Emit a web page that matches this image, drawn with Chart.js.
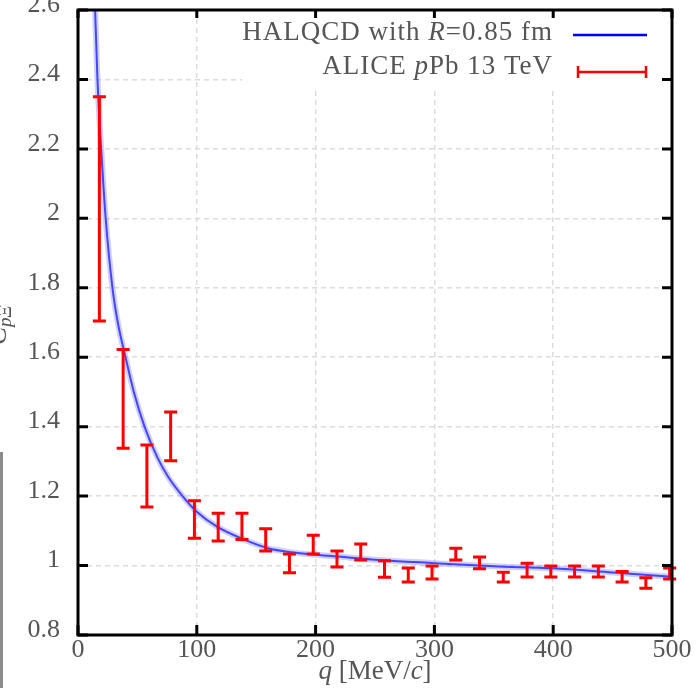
<!DOCTYPE html>
<html>
<head>
<meta charset="utf-8">
<script src="https://cdn.jsdelivr.net/npm/chart.js@4.4.1/dist/chart.umd.min.js"></script>
<style>
  html, body { margin: 0; padding: 0; background: #fff; }
  #wrap { position: relative; width: 699px; height: 688px; }
  #edge { position: absolute; left: 0; top: 452px; width: 3px; height: 236px; background: #8c8c8c; }
</style>
</head>
<body>
<div id="wrap">
  <canvas id="cf" width="699" height="688"></canvas>
  <div id="edge"></div>
</div>
<script>
// HALQCD curve
var curveQ = [14.4, 16.4, 19.5, 23.3, 29, 33.5, 40, 47, 56, 67, 76, 88, 100, 117, 139, 160, 180, 200, 226, 250, 300, 350, 400, 450, 500];
var curveC = [2.6, 2.4, 2.2, 2.0, 1.8, 1.7, 1.6, 1.5, 1.4, 1.31, 1.255, 1.2, 1.155, 1.112, 1.076, 1.05, 1.038, 1.031, 1.024, 1.017, 1.007, 0.998, 0.992, 0.98, 0.968];

// ALICE data points
var dataQ = [18, 38, 58, 78, 98, 118, 138, 158, 178, 198, 218, 238, 258, 278, 298, 318, 338, 358, 378, 398, 418, 438, 458, 478, 498];
var dataC = [2.027, 1.48, 1.258, 1.372, 1.133, 1.111, 1.113, 1.074, 1.006, 1.06, 1.019, 1.039, 0.99, 0.973, 0.98, 1.033, 1.008, 0.967, 0.987, 0.983, 0.983, 0.983, 0.968, 0.95, 0.977];
var dataErr = [0.323, 0.142, 0.089, 0.07, 0.054, 0.04, 0.038, 0.032, 0.027, 0.027, 0.023, 0.023, 0.024, 0.02, 0.019, 0.017, 0.017, 0.014, 0.02, 0.016, 0.016, 0.016, 0.015, 0.015, 0.016];

var xTicks = [0, 100, 200, 300, 400, 500];
var yTicks = [0.8, 1, 1.2, 1.4, 1.6, 1.8, 2, 2.2, 2.4, 2.6];

var serif = '"Liberation Serif", "DejaVu Serif", serif';
var textCol = '#555';

function pts(xs, ys) {
	var out = [];
	for (var i in xs) out.push({x: xs[i], y: ys[i]});
	return out;
}

// draw a run of text pieces, some italic, starting at x
function drawPieces(ctx, pieces, x, y, size) {
	for (var i in pieces) {
		var p = pieces[i];
		ctx.font = (p.it ? 'italic ' : '') + size + 'px ' + serif;
		ctx.fillText(p.t, x, y);
		x += ctx.measureText(p.t).width;
	}
}
function piecesWidth(ctx, pieces, size) {
	var w = 0;
	for (var i in pieces) {
		ctx.font = (pieces[i].it ? 'italic ' : '') + size + 'px ' + serif;
		w += ctx.measureText(pieces[i].t).width;
	}
	return w;
}

var extras = {
	id: 'extras',
	beforeDatasetsDraw: function(chart) {
		var ctx = chart.ctx, a = chart.chartArea;
		ctx.save();
		ctx.fillStyle = '#fff';
		ctx.fillRect(242, a.top + 2, a.right - 244, 76);
		ctx.restore();
	},
	afterDatasetsDraw: function(chart) {
		var ctx = chart.ctx, xs = chart.scales.x, ys = chart.scales.y;
		ctx.save();
		ctx.strokeStyle = '#ff0000';
		ctx.lineWidth = 3;
		for (var i in dataQ) {
			var px = xs.getPixelForValue(dataQ[i]);
			var t = ys.getPixelForValue(dataC[i] + dataErr[i]);
			var b = ys.getPixelForValue(dataC[i] - dataErr[i]);
			ctx.beginPath();
			ctx.moveTo(px, t); ctx.lineTo(px, b);
			ctx.moveTo(px - 6.5, t); ctx.lineTo(px + 6.5, t);
			ctx.moveTo(px - 6.5, b); ctx.lineTo(px + 6.5, b);
			ctx.stroke();
		}
		ctx.restore();
	},
	afterDraw: function(chart) {
		var ctx = chart.ctx, a = chart.chartArea, xs = chart.scales.x, ys = chart.scales.y;
		ctx.save();
		// frame and inward ticks
		ctx.strokeStyle = '#000';
		ctx.lineWidth = 3;
		ctx.strokeRect(a.left, a.top, a.right - a.left, a.bottom - a.top);
		ctx.beginPath();
		for (var i in xTicks) {
			var px = xs.getPixelForValue(xTicks[i]);
			ctx.moveTo(px, a.bottom); ctx.lineTo(px, a.bottom - 10);
			ctx.moveTo(px, a.top); ctx.lineTo(px, a.top + 8);
		}
		for (var j in yTicks) {
			var py = ys.getPixelForValue(yTicks[j]);
			ctx.moveTo(a.left, py); ctx.lineTo(a.left + 10, py);
			ctx.moveTo(a.right, py); ctx.lineTo(a.right - 10, py);
		}
		ctx.stroke();

		// legend
		ctx.fillStyle = textCol;
		ctx.textBaseline = 'alphabetic';
		ctx.textAlign = 'left';
		ctx.letterSpacing = '1px';
		var l1 = [{t: 'HALQCD with '}, {t: 'R', it: true}, {t: '=0.85 fm'}];
		var l2 = [{t: 'ALICE '}, {t: 'p', it: true}, {t: 'Pb 13 TeV'}];
		drawPieces(ctx, l1, 553 - piecesWidth(ctx, l1, 27), 40, 27);
		drawPieces(ctx, l2, 553 - piecesWidth(ctx, l2, 27), 74, 27);
		ctx.letterSpacing = '0px';
		ctx.strokeStyle = '#0000ff';
		ctx.lineWidth = 2.5;
		ctx.beginPath(); ctx.moveTo(573, 35); ctx.lineTo(647, 35); ctx.stroke();
		ctx.strokeStyle = '#ff0000';
		ctx.beginPath();
		ctx.moveTo(578, 72); ctx.lineTo(646, 72);
		ctx.moveTo(578, 66); ctx.lineTo(578, 78);
		ctx.moveTo(646, 66); ctx.lineTo(646, 78);
		ctx.stroke();

		// axis titles
		ctx.fillStyle = textCol;
		var xt = [{t: 'q', it: true}, {t: ' [MeV/'}, {t: 'c', it: true}, {t: ']'}];
		drawPieces(ctx, xt, 375 - piecesWidth(ctx, xt, 27) / 2, 679, 27);
		ctx.translate(6, 345);
		ctx.rotate(-Math.PI / 2);
		ctx.font = 'italic 27px ' + serif;
		ctx.fillText('C', 0, 0);
		var cw = ctx.measureText('C').width;
		drawPieces(ctx, [{t: 'p', it: true}, {t: 'Ξ', it: true}], cw, 5, 19);
		ctx.restore();
	}
};

var ctx = document.getElementById('cf');
var chart = new Chart(ctx, {
	type: 'scatter',
	data: {
		datasets: [
			{
				type: 'line',
				label: 'halo',
				data: pts(curveQ, curveC),
				borderColor: 'rgba(120,120,255,0.35)',
				borderWidth: 6,
				pointRadius: 0,
				cubicInterpolationMode: 'monotone'
			},
			{
				type: 'line',
				label: 'HALQCD with R=0.85 fm',
				data: pts(curveQ, curveC),
				borderColor: '#2a2aff',
				borderWidth: 2,
				pointRadius: 0,
				cubicInterpolationMode: 'monotone'
			},
			{
				label: 'ALICE pPb 13 TeV',
				data: pts(dataQ, dataC),
				pointRadius: 0,
				pointHoverRadius: 0
			}
		]
	},
	options: {
		responsive: false,
		animation: false,
		layout: { padding: { top: 10, right: 27, left: 0, bottom: 0 } },
		plugins: { legend: { display: false }, tooltip: { enabled: false } },
		scales: {
			x: {
				type: 'linear', min: 0, max: 500,
				afterFit: function(s) { s.height = 53; s.paddingLeft = 0; s.paddingRight = 0; },
				grid: { color: '#dcdcdc', lineWidth: 1.5, drawTicks: false },
				border: { display: false, dash: [5, 4] },
				ticks: { stepSize: 100, padding: 0, color: textCol, font: { family: serif, size: 26 } }
			},
			y: {
				min: 0.8, max: 2.6,
				afterFit: function(s) { s.width = 78; s.paddingTop = 0; s.paddingBottom = 0; },
				grid: { color: '#dcdcdc', lineWidth: 1.5, drawTicks: false },
				border: { display: false, dash: [5, 4] },
				ticks: {
					stepSize: 0.2, padding: 18, labelOffset: -5, color: textCol, font: { family: serif, size: 26 },
					callback: function(v) { return String(+v.toFixed(1)); }
				}
			}
		}
	},
	plugins: [extras]
});
</script>
</body>
</html>
